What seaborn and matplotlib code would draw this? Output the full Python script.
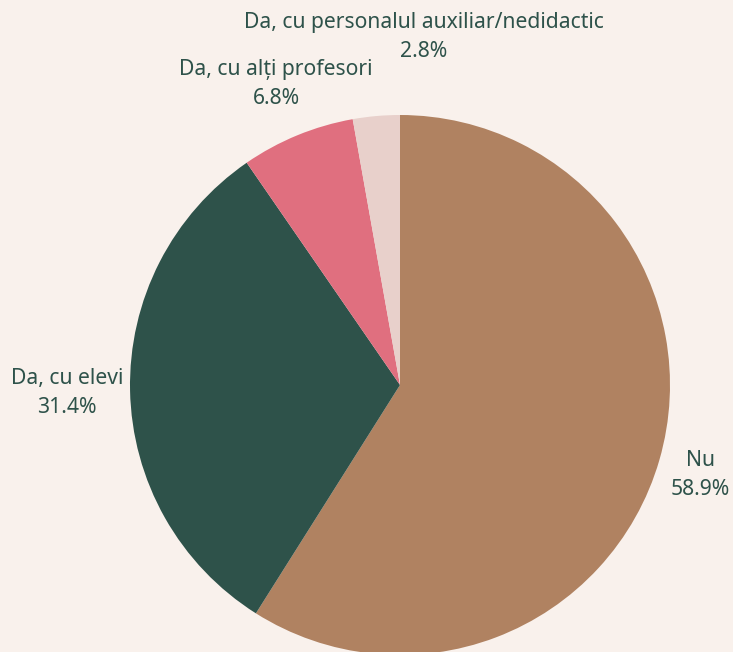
import numpy as np
import matplotlib
matplotlib.use("Agg")
import matplotlib.pyplot as plt
import seaborn as sns

categories = ["Nu", "Da, cu elevi", "Da, cu alți profesori", "Da, cu personalul auxiliar/nedidactic"]
values = [58.9, 31.4, 6.8, 2.8]
colors = ["#b08261", "#2e524a", "#e06f7f", "#e8d0cb"]

bg = "#f9f1ec"
txt = "#2e524a"

sns.set_theme(style="white")
plt.rcParams['font.family'] = ['Noto Sans', 'DejaVu Sans']

fig = plt.figure(figsize=(7.33, 6.52), dpi=100, facecolor=bg)
W, H = 733, 652
cx, cy, r = 400, 385, 270
ax = fig.add_axes([(cx - r) / W, (H - cy - r) / H, 2 * r / W, 2 * r / H])
ax.set_facecolor(bg)

wedges, _ = ax.pie(values, colors=colors, startangle=90, counterclock=False,
                   radius=1, wedgeprops=dict(linewidth=0))
ax.set_xlim(-1, 1)
ax.set_ylim(-1, 1)
ax.set_aspect('equal')
ax.axis('off')
for w in wedges:
    w.set_clip_on(False)

# label positions (pixel centers) for each category
label_px = [(700, 475), (67, 393), (276, 84), (424, 37)]
for cat, val, (px, py) in zip(categories, values, label_px):
    fig.text(px / W, 1 - py / H, f"{cat}\n{val:.1f}%", ha='center', va='center',
             multialignment='center', color=txt, fontsize=15.2, linespacing=1.5)

fig.savefig("out.png", dpi=100, facecolor=bg)
